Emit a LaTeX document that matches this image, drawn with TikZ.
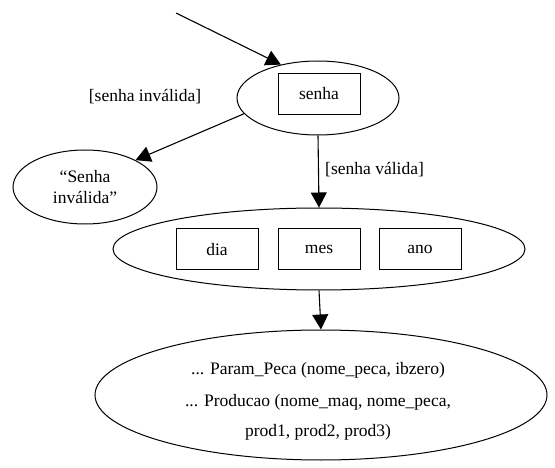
\documentclass[tikz,border=0pt]{standalone}
\usepackage{fontspec}
\setmainfont{Liberation Serif}
\usetikzlibrary{arrows.meta,shapes.geometric}
\begin{document}
\begin{tikzpicture}[x=1pt,y=-1pt,
  every node/.style={font=\fontsize{17.5}{21}\selectfont},
  state/.style={draw,ellipse,line width=1pt,inner sep=0pt},
  field/.style={draw,rectangle,line width=1pt,minimum width=82pt,minimum height=41pt,inner sep=0pt},
  flow/.style={draw,line width=1.1pt,-{Triangle[length=15pt,width=16pt]}},
  lbl/.style={inner sep=0pt}]
\useasboundingbox (0,0) rectangle (555,468);
\coordinate (start) at (176,13);
\node[state,minimum width=162pt,minimum height=74pt] (senhaE) at (318,98) {};
\node[field] (senhaB) at (319,94) {senha};
\node[lbl] (lblInv) at (145,97) {[senha inválida]};
\node[state,minimum width=144pt,minimum height=74pt,align=center] (invE) at (85,187) {“Senha\\inválida”};
\node[lbl,anchor=west] (lblVal) at (325,170) {[senha válida]};
\node[state,minimum width=412pt,minimum height=82pt] (dataE) at (319,249) {};
\node[field] (dia) at (217,249.5) {dia};
\node[field] (mes) at (319,249.5) {mes};
\node[field] (ano) at (420,249.5) {ano};
\node[state,minimum width=452pt,minimum height=130pt] (outE) at (321,395) {};
\node[lbl] (t1) at (318,370) {... Param\_Peca (nome\_peca, ibzero)};
\node[lbl] (t2) at (318,402) {... Producao (nome\_maq, nome\_peca,};
\node[lbl] (t3) at (318,432) {prod1, prod2, prod3)};
\draw[flow] (start) -- (senhaE.138);
\draw[flow] (senhaE.192) -- (invE.28);
\draw[flow] (senhaE.south) -- (dataE.north);
\draw[flow] (dataE.south) -- (outE.north);
\end{tikzpicture}
\end{document}
